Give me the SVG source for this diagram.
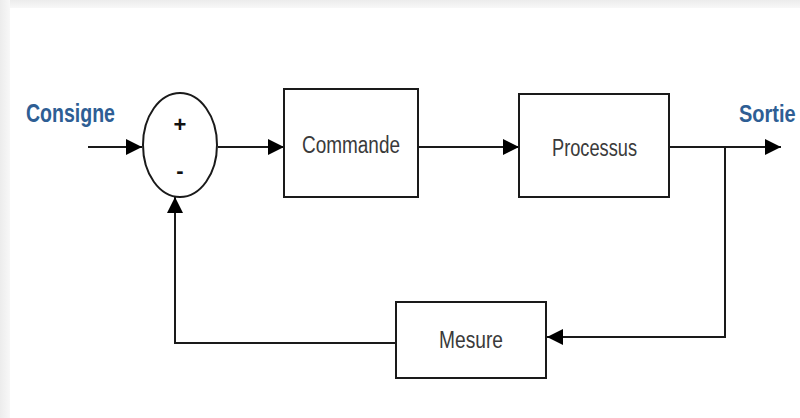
<svg xmlns="http://www.w3.org/2000/svg" width="800" height="418" viewBox="0 0 800 418">
<defs>
<linearGradient id="gt" x1="0" y1="0" x2="0" y2="1"><stop offset="0" stop-color="#ececec"/><stop offset="1" stop-color="#f8f8f8"/></linearGradient>
<linearGradient id="gl" x1="0" y1="0" x2="1" y2="0"><stop offset="0" stop-color="#ececec"/><stop offset="1" stop-color="#f8f8f8"/></linearGradient>
<marker id="arr" viewBox="0 0 16 16" refX="16" refY="8" markerWidth="16" markerHeight="16" markerUnits="userSpaceOnUse" orient="auto">
<path d="M0,0 L16,8 L0,16 Z" fill="#000"/>
</marker>
</defs>
<style>
.box{fill:#fff;stroke:#1a1a1a;stroke-width:2}
.lbl{font-family:"Liberation Sans",Arial,sans-serif;font-size:23px;fill:#3a3a3a}
.io{font-family:"Liberation Sans",Arial,sans-serif;font-size:25px;font-weight:bold;fill:#2e5e94}
.ln{fill:none;stroke:#1a1a1a;stroke-width:2}
.sg{font-family:"Liberation Sans",Arial,sans-serif;font-size:22px;font-weight:bold;fill:#111;text-anchor:middle}
</style>
<rect width="800" height="418" fill="#fff"/>
<rect x="0" y="0" width="800" height="8" fill="url(#gt)"/>
<rect x="0" y="0" width="10" height="418" fill="url(#gl)"/>
<g id="connectors">
<line class="ln" x1="88" y1="147" x2="142" y2="147" marker-end="url(#arr)"/>
<line class="ln" x1="218" y1="147" x2="284" y2="147" marker-end="url(#arr)"/>
<line class="ln" x1="418" y1="147" x2="519" y2="147" marker-end="url(#arr)"/>
<line class="ln" x1="669" y1="147" x2="781" y2="147" marker-end="url(#arr)"/>
<polyline class="ln" points="725,147 725,337 547,337" marker-end="url(#arr)"/>
<polyline class="ln" points="396,343 175,343 175,197" marker-end="url(#arr)"/>
</g>
<g id="consigne"><text class="io" x="26" y="122" textLength="89" lengthAdjust="spacingAndGlyphs">Consigne</text></g>
<g id="sortie"><text class="io" style="font-size:20px" transform="translate(739,122) scale(1,1.2)">Sortie</text></g>
<g id="comparateur">
<ellipse cx="180" cy="145" rx="37" ry="52" fill="#fff" stroke="#1a1a1a" stroke-width="2"/>
<text class="sg" x="180" y="132">+</text>
<text class="sg" x="180" y="178">-</text>
</g>
<g id="commande">
<rect class="box" x="284" y="89" width="134" height="108"/>
<text class="lbl" x="302" y="153" textLength="98" lengthAdjust="spacingAndGlyphs">Commande</text>
</g>
<g id="processus">
<rect class="box" x="519" y="94" width="150" height="103"/>
<text class="lbl" x="552" y="156" textLength="85" lengthAdjust="spacingAndGlyphs">Processus</text>
</g>
<g id="mesure">
<rect class="box" x="396" y="302" width="150" height="76"/>
<text class="lbl" x="439" y="348" textLength="64" lengthAdjust="spacingAndGlyphs">Mesure</text>
</g>
</svg>
